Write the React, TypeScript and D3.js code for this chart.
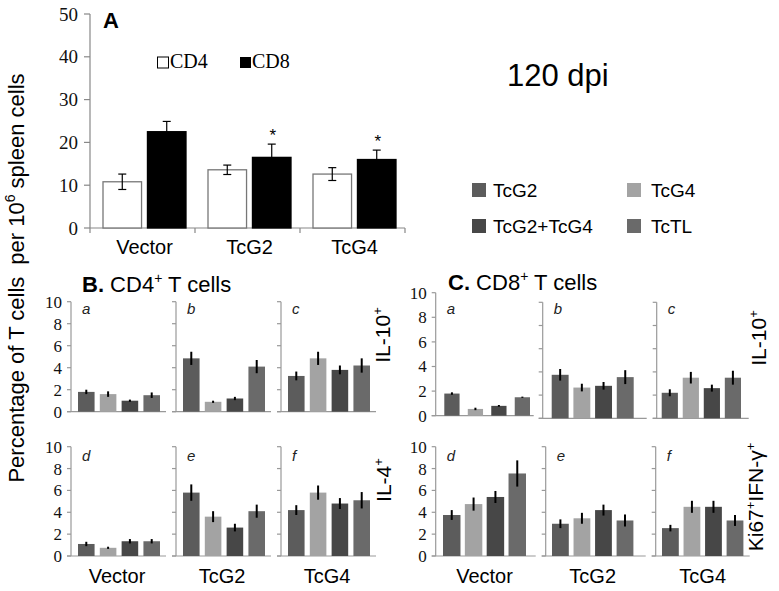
import React from "react";
import * as d3 from "d3";

// ---------- data ----------
const A_CATEGORIES = ["Vector", "TcG2", "TcG4"];
const A_SERIES = ["CD4", "CD8"];
const A_CD4 = [10.8, 13.6, 12.6];
const A_CD4_ERR = [1.8, 1.1, 1.5];
const A_CD8 = [22.5, 16.5, 16.0];
const A_CD8_ERR = [2.4, 3.1, 2.2];
const A_STARS = [false, true, true];
const A_TICKS = [0, 10, 20, 30, 40, 50];

const SERIES = ["TcG2", "TcG4", "TcG2+TcG4", "TcTL"];
const SERIES_COLORS = ["#5c5c5c", "#a3a3a3", "#474747", "#6a6a6a"];
const PANEL_TICKS = [0, 2, 4, 6, 8, 10];
const GROUPS = ["Vector", "TcG2", "TcG4"];

// B. CD4+ T cells
const B_IL10 = [
  [1.8, 1.6, 1.0, 1.5],
  [4.85, 0.9, 1.2, 4.1],
  [3.25, 4.85, 3.8, 4.2],
];
const B_IL10_ERR = [
  [0.2, 0.25, 0.1, 0.25],
  [0.6, 0.1, 0.15, 0.6],
  [0.4, 0.6, 0.4, 0.65],
];
const B_IL4 = [
  [1.1, 0.75, 1.35, 1.35],
  [5.8, 3.6, 2.6, 4.1],
  [4.2, 5.8, 4.8, 5.1],
];
const B_IL4_ERR = [
  [0.2, 0.1, 0.2, 0.2],
  [0.75, 0.5, 0.35, 0.6],
  [0.45, 0.65, 0.5, 0.75],
];

// C. CD8+ T cells
const C_IL10 = [
  [1.8, 0.55, 0.8, 1.5],
  [3.75, 2.65, 2.8, 3.55],
  [2.2, 3.5, 2.6, 3.5],
];
const C_IL10_ERR = [
  [0.1, 0.1, 0.07, 0.05],
  [0.5, 0.33, 0.33, 0.6],
  [0.3, 0.5, 0.3, 0.6],
];
const C_KI67 = [
  [3.75, 4.75, 5.4, 7.55],
  [2.95, 3.45, 4.2, 3.25],
  [2.55, 4.5, 4.5, 3.25],
];
const C_KI67_ERR = [
  [0.45, 0.6, 0.55, 1.2],
  [0.4, 0.5, 0.5, 0.55],
  [0.3, 0.55, 0.55, 0.5],
];

const LETTERS_TOP = ["a", "b", "c"];
const LETTERS_BOTTOM = ["d", "e", "f"];

// ---------- layout ----------
const SANS = "'Liberation Sans', Arial, sans-serif";
const SERIF = "'Liberation Serif', 'Times New Roman', serif";
const AXIS_GRAY = "#999";

type PanelLayout = {
  x0: number; xEnd: number; barL: number; barR: number; pi: number;
  y0: number; y10: number; letterY: number;
};

const B_TOP: PanelLayout[] = [
  { x0: 71, xEnd: 95, barL: 7, barR: 89, pi: 0.24, y0: 411.7, y10: 301.7, letterY: 314 },
  { x0: 176, xEnd: 95, barL: 7, barR: 89, pi: 0.24, y0: 411.7, y10: 301.7, letterY: 314 },
  { x0: 281, xEnd: 95, barL: 7, barR: 89, pi: 0.24, y0: 411.7, y10: 301.7, letterY: 314 },
];
const B_BOT: PanelLayout[] = [
  { x0: 71, xEnd: 95, barL: 7, barR: 89, pi: 0.24, y0: 556, y10: 446.7, letterY: 461 },
  { x0: 176, xEnd: 95, barL: 7, barR: 89, pi: 0.24, y0: 556, y10: 446.7, letterY: 461 },
  { x0: 281, xEnd: 95, barL: 7, barR: 89, pi: 0.24, y0: 556, y10: 446.7, letterY: 461 },
];
const C_TOP: PanelLayout[] = [
  { x0: 435.7, xEnd: 98, barL: 8.6, barR: 94.3, pi: 0.35, y0: 415.7, y10: 292.7, letterY: 314 },
  { x0: 542.7, xEnd: 104, barL: 9, barR: 91, pi: 0.22, y0: 418.3, y10: 302.3, letterY: 314 },
  { x0: 656.7, xEnd: 92, barL: 5, barR: 84.3, pi: 0.23, y0: 418.3, y10: 302.3, letterY: 314 },
];
const C_BOT: PanelLayout[] = [
  { x0: 435.7, xEnd: 100, barL: 7.3, barR: 90.3, pi: 0.2, y0: 556, y10: 446.7, letterY: 461 },
  { x0: 545.7, xEnd: 100, barL: 6.3, barR: 87.7, pi: 0.22, y0: 556, y10: 446.7, letterY: 461 },
  { x0: 655.7, xEnd: 94, barL: 6.3, barR: 87.7, pi: 0.22, y0: 556, y10: 446.7, letterY: 461 },
];

function SmallPanel(props: {
  L: PanelLayout; values: number[]; errs: number[]; letter: string; showLabels: boolean;
}) {
  const { L, values, errs, letter, showLabels } = props;
  const y = d3.scaleLinear().domain([0, 10]).range([L.y0, L.y10]);
  const x = d3
    .scaleBand<string>()
    .domain(SERIES)
    .range([L.x0 + L.barL, L.x0 + L.barR])
    .paddingInner(L.pi)
    .paddingOuter(0);
  return (
    <g>
      <line x1={L.x0} x2={L.x0} y1={y(0)} y2={y(10)} stroke={AXIS_GRAY} strokeWidth={1.2} />
      <line x1={L.x0 - 4} x2={L.x0 + L.xEnd} y1={y(0)} y2={y(0)} stroke={AXIS_GRAY} strokeWidth={1.2} />
      {PANEL_TICKS.map((t) => (
        <g key={t}>
          <line x1={L.x0 - 4} x2={L.x0} y1={y(t)} y2={y(t)} stroke={AXIS_GRAY} strokeWidth={1.2} />
          {showLabels && (
            <text x={L.x0 - 9} y={y(t)} dy="0.35em" textAnchor="end" fontFamily={SERIF} fontSize={17} fill="#111">
              {t}
            </text>
          )}
        </g>
      ))}
      {SERIES.map((s, i) => (
        <rect key={s} x={x(s)} y={y(values[i])} width={x.bandwidth()} height={y(0) - y(values[i])} fill={SERIES_COLORS[i]} />
      ))}
      {SERIES.map((s, i) => (
        <line
          key={s + "e"}
          x1={(x(s) as number) + x.bandwidth() / 2}
          x2={(x(s) as number) + x.bandwidth() / 2}
          y1={y(values[i] - errs[i])}
          y2={y(values[i] + errs[i])}
          stroke="#000"
          strokeWidth={2}
        />
      ))}
      <text x={L.x0 + 11} y={L.letterY} fontFamily={SANS} fontStyle="italic" fontSize={15} fill="#222">
        {letter}
      </text>
    </g>
  );
}

function PanelA() {
  const y = d3.scaleLinear().domain([0, 50]).range([228, 14]);
  const xg = d3.scaleBand<string>().domain(A_CATEGORIES).range([90, 405]);
  const xi = d3.scaleBand<string>().domain(A_SERIES).range([13, 96]).paddingInner(0.133).paddingOuter(0);
  const boundaries = [90, ...A_CATEGORIES.map((c) => (xg(c) as number) + xg.bandwidth())];
  const vals = [A_CD4, A_CD8];
  const errs = [A_CD4_ERR, A_CD8_ERR];
  return (
    <g>
      <line x1={90} x2={90} y1={y(0)} y2={y(50)} stroke="#888" strokeWidth={1.2} />
      <line x1={90} x2={405} y1={y(0)} y2={y(0)} stroke="#888" strokeWidth={1.2} />
      {A_TICKS.map((t) => (
        <g key={t}>
          <line x1={84} x2={90} y1={y(t)} y2={y(t)} stroke="#888" strokeWidth={1.2} />
          <text x={78} y={y(t)} dy="0.35em" textAnchor="end" fontFamily={SERIF} fontSize={19} fill="#111">
            {t}
          </text>
        </g>
      ))}
      {boundaries.map((b, i) => (
        <line key={i} x1={b} x2={b} y1={y(0)} y2={y(0) + 5} stroke="#888" strokeWidth={1.2} />
      ))}
      {A_CATEGORIES.map((c, ci) => (
        <g key={c}>
          {A_SERIES.map((s, si) => {
            const bx = (xg(c) as number) + (xi(s) as number);
            const v = vals[si][ci];
            const e = errs[si][ci];
            const cx = bx + xi.bandwidth() / 2;
            return (
              <g key={s}>
                <rect
                  x={bx}
                  y={y(v)}
                  width={xi.bandwidth()}
                  height={y(0) - y(v)}
                  fill={si === 0 ? "#fff" : "#000"}
                  stroke={si === 0 ? "#777" : "#000"}
                  strokeWidth={1.3}
                />
                <line x1={cx} x2={cx} y1={y(v - e)} y2={y(v + e)} stroke="#000" strokeWidth={1.2} />
                <line x1={cx - 4} x2={cx + 4} y1={y(v + e)} y2={y(v + e)} stroke="#000" strokeWidth={1.2} />
                <line x1={cx - 4} x2={cx + 4} y1={y(v - e)} y2={y(v - e)} stroke="#000" strokeWidth={1.2} />
                {si === 1 && A_STARS[ci] && (
                  <text x={cx + 1} y={y(v + e) - 3} textAnchor="middle" fontFamily={SANS} fontSize={17} fill="#000">
                    *
                  </text>
                )}
              </g>
            );
          })}
          <text
            x={(xg(c) as number) + xg.bandwidth() / 2 + 2}
            y={254}
            textAnchor="middle"
            fontFamily={SANS}
            fontSize={20}
            fill="#000"
          >
            {c}
          </text>
        </g>
      ))}
      <text x={103} y={28} fontFamily={SANS} fontWeight="bold" fontSize={22} fill="#000">A</text>
      {/* legend */}
      <rect x={157.5} y={57} width={11} height={11} fill="#fff" stroke="#000" strokeWidth={1} />
      <text x={170} y={68} fontFamily={SERIF} fontSize={20} fill="#000">{A_SERIES[0]}</text>
      <rect x={240} y={57} width={11} height={11} fill="#000" />
      <text x={252} y={68} fontFamily={SERIF} fontSize={20} fill="#000">{A_SERIES[1]}</text>
    </g>
  );
}

export default function App() {
  const legendPos = [
    [472, 183],
    [627, 183],
    [472, 219],
    [627, 219],
  ];
  return (
    <svg
      width={779}
      height={591}
      viewBox="0 0 779 591"
      style={{ position: "absolute", left: 0, top: 0, background: "#fff" }}
    >
      <rect width={779} height={591} fill="#fff" />
      <PanelA />
      <text x={507} y={86} fontFamily={SANS} fontSize={31} fill="#000">120 dpi</text>

      {/* series legend */}
      {SERIES.map((s, i) => (
        <g key={s}>
          <rect x={legendPos[i][0]} y={legendPos[i][1]} width={14} height={14} fill={SERIES_COLORS[i]} />
          <text x={legendPos[i][0] + (i % 2 === 0 ? 21 : 24)} y={legendPos[i][1] + 14} fontFamily={SANS} fontSize={19} fill="#000">
            {s}
          </text>
        </g>
      ))}

      {/* y-axis label */}
      <text transform="translate(24,278) rotate(-90)" textAnchor="middle" fontFamily={SANS} fontSize={22} fill="#000">
        <tspan>Percentage of T cells</tspan>
        <tspan dx={12}>per 10</tspan>
        <tspan dy={-9} fontSize={14}>6</tspan>
        <tspan dy={9}> spleen cells</tspan>
      </text>

      {/* panel titles */}
      <text x={82} y={292} fontFamily={SANS} fontSize={22} fill="#000">
        <tspan fontWeight="bold">B.</tspan>
        <tspan> CD4</tspan>
        <tspan dy={-9} fontSize={14}>+</tspan>
        <tspan dy={9}> T cells</tspan>
      </text>
      <text x={448} y={290} fontFamily={SANS} fontSize={22} fill="#000">
        <tspan fontWeight="bold">C.</tspan>
        <tspan> CD8</tspan>
        <tspan dy={-9} fontSize={14}>+</tspan>
        <tspan dy={9}> T cells</tspan>
      </text>

      {B_TOP.map((L, i) => (
        <SmallPanel key={"bt" + i} L={L} values={B_IL10[i]} errs={B_IL10_ERR[i]} letter={LETTERS_TOP[i]} showLabels={i === 0} />
      ))}
      {B_BOT.map((L, i) => (
        <SmallPanel key={"bb" + i} L={L} values={B_IL4[i]} errs={B_IL4_ERR[i]} letter={LETTERS_BOTTOM[i]} showLabels={i === 0} />
      ))}
      {C_TOP.map((L, i) => (
        <SmallPanel key={"ct" + i} L={L} values={C_IL10[i]} errs={C_IL10_ERR[i]} letter={LETTERS_TOP[i]} showLabels={i === 0} />
      ))}
      {C_BOT.map((L, i) => (
        <SmallPanel key={"cb" + i} L={L} values={C_KI67[i]} errs={C_KI67_ERR[i]} letter={LETTERS_BOTTOM[i]} showLabels={i === 0} />
      ))}

      {/* group labels */}
      {GROUPS.map((g, i) => (
        <text key={"gb" + g} x={B_BOT[i].x0 + (B_BOT[i].barL + B_BOT[i].barR) / 2 - 2} y={583} textAnchor="middle" fontFamily={SANS} fontSize={20} fill="#000">
          {g}
        </text>
      ))}
      {GROUPS.map((g, i) => (
        <text key={"gc" + g} x={C_BOT[i].x0 + (C_BOT[i].barL + C_BOT[i].barR) / 2} y={583} textAnchor="middle" fontFamily={SANS} fontSize={20} fill="#000">
          {g}
        </text>
      ))}

      {/* right-side row labels */}
      <text transform="translate(390,335) rotate(-90)" textAnchor="middle" fontFamily={SANS} fontSize={21} fill="#000">
        <tspan>IL-10</tspan>
        <tspan dy={-8} fontSize={13}>+</tspan>
      </text>
      <text transform="translate(766,338) rotate(-90)" textAnchor="middle" fontFamily={SANS} fontSize={21} fill="#000">
        <tspan>IL-10</tspan>
        <tspan dy={-8} fontSize={13}>+</tspan>
      </text>
      <text transform="translate(391,480) rotate(-90)" textAnchor="middle" fontFamily={SANS} fontSize={21} fill="#000">
        <tspan>IL-4</tspan>
        <tspan dy={-8} fontSize={13}>+</tspan>
      </text>
      <text transform="translate(763,497) rotate(-90)" textAnchor="middle" fontFamily={SANS} fontSize={21} fill="#000">
        <tspan>Ki67</tspan>
        <tspan dy={-8} fontSize={13}>+</tspan>
        <tspan dy={8}>IFN-γ</tspan>
        <tspan dy={-8} fontSize={13}>+</tspan>
      </text>
    </svg>
  );
}
